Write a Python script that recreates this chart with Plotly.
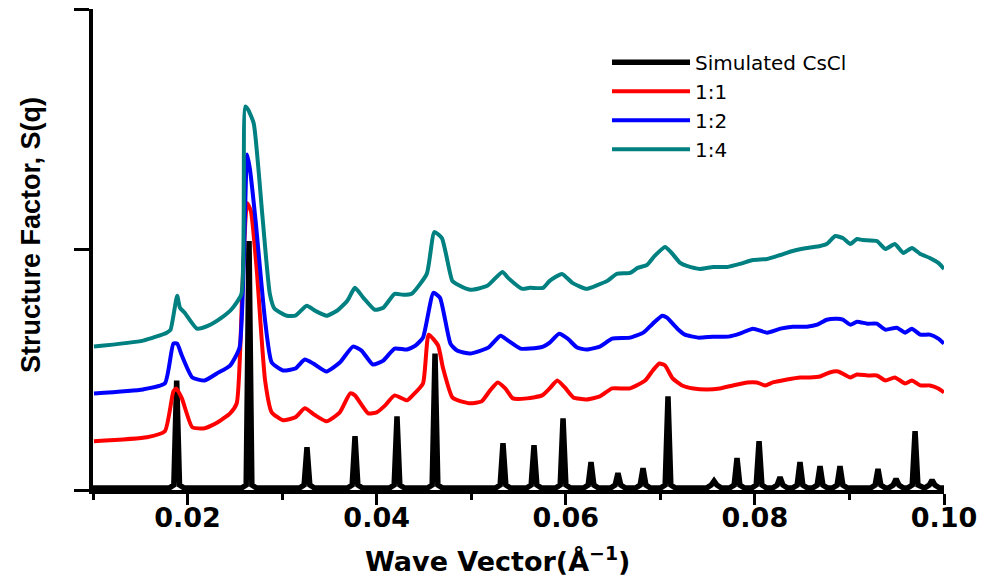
import plotly.graph_objects as go

# ---------------- data ----------------
series_names = ["Simulated CsCl", "1:1", "1:2", "1:4"]
series_colors = ["#000000", "#FF0000", "#0000FF", "#008080"]

# Simulated CsCl: narrow Bragg peaks (position, height)
sim_peak_q = [0.01885, 0.02650, 0.03263, 0.03771, 0.04215, 0.04617, 0.05336,
              0.05664, 0.05971, 0.06267, 0.06552, 0.06817, 0.07081, 0.07568,
              0.07811, 0.08044, 0.08266, 0.08477, 0.08689, 0.08900, 0.09302,
              0.09493, 0.09694, 0.09874]
sim_peak_s = [1.10, 2.50, 0.43, 0.54, 0.74, 1.37, 0.47, 0.45, 0.72, 0.28,
              0.17, 0.22, 0.94, 0.09, 0.32, 0.49, 0.13, 0.28, 0.24, 0.24,
              0.21, 0.11, 0.59, 0.10]
sim_baseline = 0.02
q_start, q_end = 0.01, 0.10

# 1:1 (red)
q_11 = [0.0101, 0.0157, 0.0176, 0.0185, 0.0188, 0.0194, 0.0205, 0.0218, 0.0232,
        0.0245, 0.0252, 0.0258, 0.0263, 0.0267, 0.0273, 0.0282, 0.0289, 0.0301,
        0.0314, 0.0324, 0.0335, 0.0347, 0.0361, 0.0372, 0.0377, 0.0391, 0.0400,
        0.0409, 0.0419, 0.0432, 0.0438, 0.0449, 0.0455, 0.0465, 0.0470, 0.0480,
        0.0486, 0.0499, 0.0511, 0.0520, 0.0528, 0.0536, 0.0544, 0.0559, 0.0575,
        0.0583, 0.0591, 0.0599, 0.0608, 0.0622, 0.0636, 0.0649, 0.0668, 0.0684,
        0.0692, 0.0699, 0.0705, 0.0713, 0.0723, 0.0735, 0.0749, 0.0763, 0.0777,
        0.0792, 0.0802, 0.0811, 0.0819, 0.0834, 0.0848, 0.0858, 0.0869, 0.0879,
        0.0888, 0.0901, 0.0908, 0.0919, 0.0929, 0.0938, 0.0948, 0.0959, 0.0966,
        0.0975, 0.0985, 0.0994, 0.1000]
s_11 = [0.49, 0.53, 0.59, 0.99, 1.02, 0.92, 0.63, 0.62, 0.68, 0.77, 0.87, 2.03,
        2.88, 2.80, 2.23, 1.10, 0.78, 0.70, 0.73, 0.82, 0.75, 0.69, 0.78, 0.97,
        0.95, 0.77, 0.78, 0.85, 0.95, 0.90, 0.95, 1.07, 1.56, 1.45, 1.23, 0.93,
        0.90, 0.87, 0.89, 1.00, 1.08, 1.02, 0.92, 0.92, 0.95, 1.02, 1.10, 1.03,
        0.93, 0.91, 0.94, 1.02, 1.02, 1.10, 1.20, 1.27, 1.25, 1.12, 1.05, 1.02,
        1.01, 1.02, 1.05, 1.08, 1.08, 1.05, 1.08, 1.11, 1.13, 1.13, 1.14, 1.18,
        1.19, 1.13, 1.16, 1.15, 1.15, 1.10, 1.13, 1.07, 1.10, 1.05, 1.05, 1.02,
        0.98]

# 1:2 (blue)
q_12 = [0.0101, 0.0153, 0.0176, 0.0185, 0.0189, 0.0194, 0.0205, 0.0218, 0.0231,
        0.0245, 0.0255, 0.0263, 0.0266, 0.0272, 0.0282, 0.0289, 0.0301, 0.0314,
        0.0324, 0.0333, 0.0347, 0.0361, 0.0375, 0.0384, 0.0396, 0.0407, 0.0419,
        0.0432, 0.0441, 0.0449, 0.0460, 0.0467, 0.0478, 0.0485, 0.0499, 0.0518,
        0.0531, 0.0539, 0.0552, 0.0562, 0.0576, 0.0583, 0.0593, 0.0602, 0.0612,
        0.0622, 0.0636, 0.0649, 0.0668, 0.0682, 0.0692, 0.0702, 0.0707, 0.0718,
        0.0726, 0.0740, 0.0756, 0.0772, 0.0784, 0.0798, 0.0813, 0.0827, 0.0840,
        0.0855, 0.0866, 0.0876, 0.0887, 0.0893, 0.0901, 0.0908, 0.0919, 0.0929,
        0.0938, 0.0950, 0.0959, 0.0966, 0.0975, 0.0985, 0.0994, 0.1000]
s_12 = [0.97, 1.01, 1.07, 1.47, 1.47, 1.35, 1.13, 1.10, 1.17, 1.25, 1.43, 3.37,
        3.22, 2.70, 1.70, 1.28, 1.20, 1.22, 1.31, 1.27, 1.19, 1.28, 1.44, 1.40,
        1.26, 1.30, 1.42, 1.41, 1.45, 1.53, 1.98, 1.93, 1.47, 1.40, 1.37, 1.43,
        1.55, 1.50, 1.42, 1.42, 1.44, 1.48, 1.57, 1.52, 1.43, 1.41, 1.44, 1.52,
        1.53, 1.58, 1.67, 1.75, 1.73, 1.62, 1.56, 1.53, 1.54, 1.54, 1.57, 1.62,
        1.58, 1.62, 1.64, 1.64, 1.66, 1.71, 1.72, 1.71, 1.66, 1.69, 1.67, 1.67,
        1.61, 1.63, 1.58, 1.62, 1.56, 1.56, 1.52, 1.47]

# 1:4 (teal)
q_14 = [0.0101, 0.0153, 0.0178, 0.0182, 0.0189, 0.0192, 0.0197, 0.0210, 0.0222,
        0.0236, 0.0247, 0.0257, 0.0261, 0.0264, 0.0270, 0.0279, 0.0287, 0.0292,
        0.0305, 0.0314, 0.0326, 0.0335, 0.0347, 0.0358, 0.0369, 0.0377, 0.0386,
        0.0398, 0.0407, 0.0419, 0.0428, 0.0437, 0.0453, 0.0461, 0.0469, 0.0480,
        0.0486, 0.0499, 0.0517, 0.0533, 0.0539, 0.0554, 0.0562, 0.0576, 0.0583,
        0.0596, 0.0607, 0.0622, 0.0634, 0.0644, 0.0654, 0.0668, 0.0676, 0.0686,
        0.0694, 0.0705, 0.0712, 0.0721, 0.0728, 0.0742, 0.0756, 0.0771, 0.0784,
        0.0798, 0.0813, 0.0827, 0.0840, 0.0855, 0.0869, 0.0876, 0.0885, 0.0893,
        0.0901, 0.0908, 0.0914, 0.0929, 0.0938, 0.0948, 0.0957, 0.0966, 0.0975,
        0.0985, 0.0994, 0.1000]
s_14 = [1.44, 1.50, 1.58, 1.61, 1.95, 1.83, 1.78, 1.62, 1.65, 1.73, 1.82, 1.97,
        3.85, 3.82, 3.68, 2.77, 1.97, 1.82, 1.75, 1.75, 1.85, 1.80, 1.75, 1.80,
        1.90, 2.03, 1.93, 1.81, 1.83, 1.97, 1.96, 1.97, 2.17, 2.59, 2.53, 2.10,
        2.06, 2.01, 2.05, 2.19, 2.13, 2.02, 2.03, 2.03, 2.10, 2.17, 2.08, 2.02,
        2.06, 2.10, 2.17, 2.18, 2.23, 2.26, 2.35, 2.44, 2.38, 2.28, 2.25, 2.22,
        2.24, 2.24, 2.27, 2.31, 2.32, 2.36, 2.40, 2.43, 2.45, 2.47, 2.55, 2.53,
        2.47, 2.52, 2.51, 2.50, 2.42, 2.47, 2.38, 2.43, 2.37, 2.33, 2.28, 2.22]

x_tick_vals = [0.02, 0.04, 0.06, 0.08, 0.10]
x_tick_text = ["0.02", "0.04", "0.06", "0.08", "0.10"]
x_minor_vals = [0.01, 0.03, 0.05, 0.07, 0.09]
y_max = 4.83
y_tick_vals = [0, y_max / 2, y_max]

x_title = "Wave Vector(Å<sup>−1</sup>)"
y_title = "Structure Factor, S(q)"

# ---------------- build simulated peak profile ----------------
PEAK_HALF = 0.0003     # half width of the spike at its base (style)
FLARE_HALF = 0.0008    # half width of the flared foot (style)
FLARE_H = 0.03         # height of the flared foot (style)
sim_q = [q_start]
sim_s = [sim_baseline]
for p, h in zip(sim_peak_q, sim_peak_s):
    sim_q += [p - FLARE_HALF, p - PEAK_HALF, p, p + PEAK_HALF, p + FLARE_HALF]
    sim_s += [sim_baseline, sim_baseline + FLARE_H, h,
              sim_baseline + FLARE_H, sim_baseline]
sim_q.append(q_end)
sim_s.append(sim_baseline)

fig = go.Figure()
all_x = [sim_q, q_11, q_12, q_14]
all_y = [sim_s, s_11, s_12, s_14]
widths = [5.5, 4, 4, 4]
shapes = ["linear", "spline", "spline", "spline"]
for name, color, xs, ys, w, shp in zip(series_names, series_colors, all_x,
                                       all_y, widths, shapes):
    line = dict(color=color, width=w, shape=shp)
    if shp == "spline":
        line["smoothing"] = 0.5
    fig.add_trace(go.Scatter(x=xs, y=ys, mode="lines", name=name,
                             line=line, hoverinfo="skip"))

fig.update_layout(
    width=977, height=569,
    margin=dict(l=85, r=41, t=1, b=87),
    paper_bgcolor="white", plot_bgcolor="white",
    showlegend=True,
    legend=dict(x=0.604, y=0.93, xanchor="left", yanchor="top",
                bgcolor="rgba(0,0,0,0)", borderwidth=0,
                itemwidth=78, traceorder="normal",
                font=dict(family="DejaVu Sans", size=20, color="black")),
    xaxis=dict(range=[q_start, q_end], showgrid=False, zeroline=False,
               showline=True, linecolor="black", linewidth=4,
               ticks="outside", tickvals=x_tick_vals, ticktext=x_tick_text,
               ticklen=11, tickwidth=3, tickcolor="black",
               ticklabelstandoff=-10,
               tickfont=dict(family="DejaVu Sans", size=27, color="black",
                             weight="bold"),
               minor=dict(tickvals=x_minor_vals, ticks="outside", ticklen=6,
                          tickwidth=3, tickcolor="black")),
    yaxis=dict(range=[0, y_max], showgrid=False, zeroline=False,
               showline=True, linecolor="black", linewidth=4,
               ticks="outside", tickvals=y_tick_vals, showticklabels=False,
               ticklen=15, tickwidth=3, tickcolor="black"),
)

fig.add_annotation(text=x_title, xref="paper", yref="paper",
                   x=0.4753, y=-0.1435, xanchor="center", yanchor="middle",
                   showarrow=False,
                   font=dict(family="DejaVu Sans", size=27, color="black",
                             weight="bold"))
fig.add_annotation(text=y_title, xref="paper", yref="paper",
                   x=-0.0729, y=0.530, xanchor="center", yanchor="middle",
                   textangle=-90, showarrow=False,
                   font=dict(family="Liberation Sans, Arial, sans-serif",
                             size=27, color="black", weight="bold"))

fig.write_html("out.html")
